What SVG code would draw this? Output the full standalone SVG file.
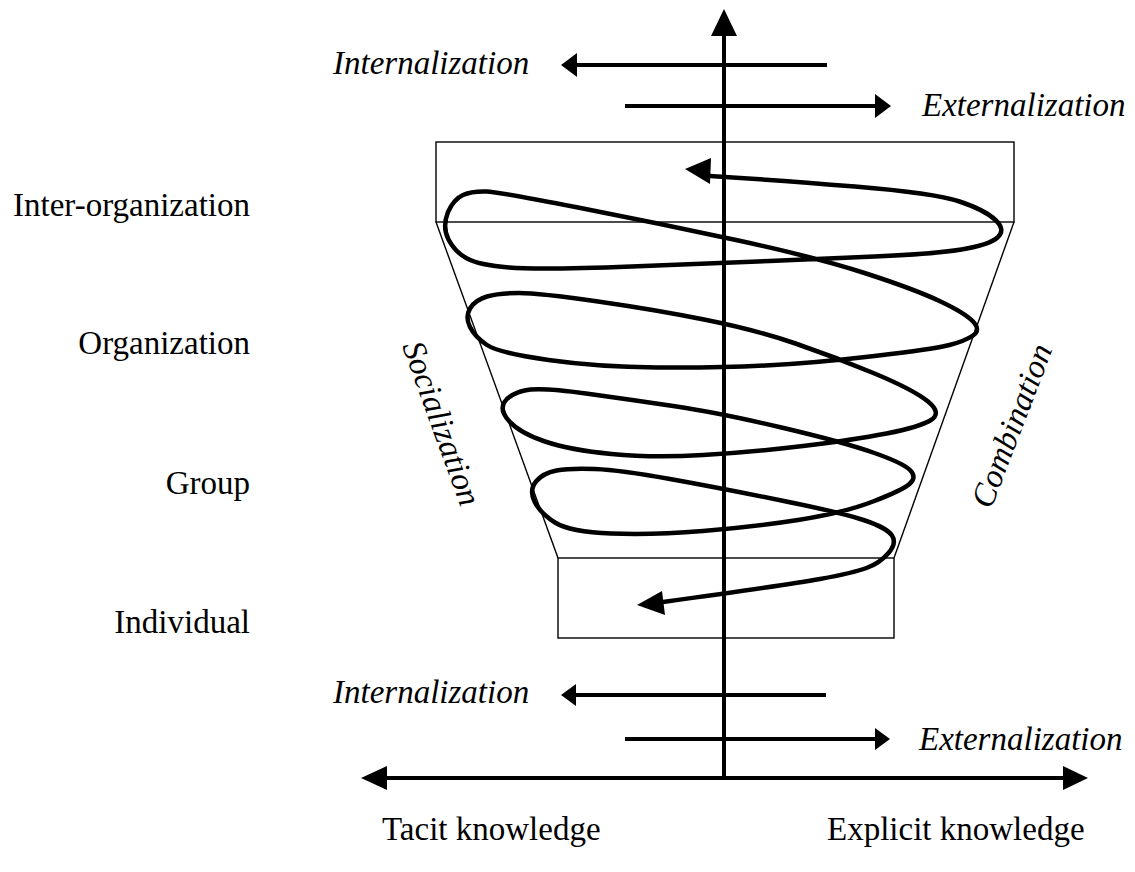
<svg xmlns="http://www.w3.org/2000/svg" width="1135" height="872" viewBox="0 0 1135 872">
<style>
.lbl{font-family:"Liberation Serif","Times New Roman",serif;font-size:33px;fill:#000}
.it{font-style:italic}
.thin{fill:none;stroke:#000;stroke-width:1.4}
.thick{fill:none;stroke:#000;stroke-width:4}
.spiral{fill:none;stroke:#000;stroke-width:4.5;stroke-linecap:round;stroke-linejoin:round}
.head{fill:#000;stroke:none}
</style>
<rect width="1135" height="872" fill="#fff"/>

<g id="levels">
  <rect class="thin" x="436" y="142" width="578" height="80"/>
  <line class="thin" x1="436" y1="222" x2="558" y2="558"/>
  <line class="thin" x1="1014" y1="222" x2="894" y2="558"/>
  <rect class="thin" x="558" y="558" width="336" height="80"/>
</g>

<g id="connectors">
  <line class="thick" x1="724" y1="32" x2="724" y2="778"/>
  <polygon class="head" points="724,9 737,36 711,36"/>
  <line class="thick" x1="380" y1="778" x2="1070" y2="778"/>
  <polygon class="head" points="361,778 387,766 387,790"/>
  <polygon class="head" points="1088,778 1063,766 1063,790"/>
  <line class="thick" x1="827" y1="65" x2="572" y2="65"/>
  <polygon class="head" points="561,65 577,53 577,77"/>
  <line class="thick" x1="625" y1="106" x2="880" y2="106"/>
  <polygon class="head" points="891,106 875,94 875,118"/>
  <line class="thick" x1="826" y1="695" x2="572" y2="695"/>
  <polygon class="head" points="561,695 576,684 576,706"/>
  <line class="thick" x1="625" y1="739" x2="880" y2="739"/>
  <polygon class="head" points="890,739 875,728 875,750"/>
  <path class="spiral" d="M710,176 Q776,180 855,186.5 Q934,193 959.5,201.5 Q985,210 995.5,220 Q1006,230 997.5,237.5 Q989,245 961.5,249.5 Q934,254 874.5,256.5 Q815,259 769.5,261 Q724,263 631.5,266.5 Q539,270 509,267.5 Q479,265 467,258.5 Q455,252 448.5,239.5 Q442,227 448,212 Q454,199 463,195 Q472,191 486.5,191.5 Q499,192 578,207.5 Q657,223 736,240 Q815,257 864.5,273 Q914,289 939.5,301 Q965,313 973,321.5 Q981,330 973,335.5 Q965,341 949.5,345 Q934,349 874.5,356 Q815,363 765.5,365.5 Q716,368 657,367.5 Q598,367 548.5,360 Q499,353 487,345 Q475,337 470,327 Q465,317 470,308.5 Q475,300 487,296.5 Q499,293 519,293 Q539,293 598,301.5 Q657,310 706.5,320 Q756,330 795.5,343.5 Q835,357 874.5,373.5 Q914,390 928,401.5 Q942,413 931,420 Q920,427 886.5,433.5 Q853,440 803,446 Q753,452 703,455 Q653,458 611.5,454 Q570,450 545,441.5 Q520,433 509.5,421.5 Q499,410 504.5,402 Q510,394 524.5,390.5 Q539,387 586,393.5 Q633,400 676.5,406.5 Q720,413 781.5,427.5 Q843,442 873,452.5 Q903,463 910,470 Q917,477 910,483.5 Q903,490 873,501.5 Q843,513 798,520 Q753,527 703,531 Q653,535 611.5,533.5 Q570,532 555,522.5 Q540,513 534.5,501.5 Q529,490 536,481.5 Q543,473 556.5,470.5 Q570,468 595,469 Q620,470 670,479 Q720,488 781.5,500.5 Q843,513 865,520.5 Q887,528 892,535.5 Q897,543 888.5,553 Q880,563 866.5,568 Q853,573 820,579 Q787,585 663,602"/>
  <polygon class="head" points="685,169 711,158 710,184"/>
  <polygon class="head" points="637,605 662,591 665,615"/>
</g>

<g id="label-internalization-top"><text class="lbl it" x="333" y="74">Internalization</text></g>
<g id="label-externalization-top"><text class="lbl it" x="922" y="116">Externalization</text></g>
<g id="label-inter-organization"><text class="lbl" x="250" y="216" text-anchor="end">Inter-organization</text></g>
<g id="label-organization"><text class="lbl" x="250" y="354" text-anchor="end">Organization</text></g>
<g id="label-group"><text class="lbl" x="250" y="494" text-anchor="end">Group</text></g>
<g id="label-individual"><text class="lbl" x="250" y="633" text-anchor="end">Individual</text></g>
<g id="label-socialization"><text class="lbl it" transform="translate(402,346) rotate(70)">Socialization</text></g>
<g id="label-combination"><text class="lbl it" transform="translate(991,510) rotate(-69)">Combination</text></g>
<g id="label-internalization-bottom"><text class="lbl it" x="333" y="703">Internalization</text></g>
<g id="label-externalization-bottom"><text class="lbl it" x="919" y="750">Externalization</text></g>
<g id="label-tacit"><text class="lbl" x="382" y="840">Tacit knowledge</text></g>
<g id="label-explicit"><text class="lbl" x="827" y="840">Explicit knowledge</text></g>
</svg>
